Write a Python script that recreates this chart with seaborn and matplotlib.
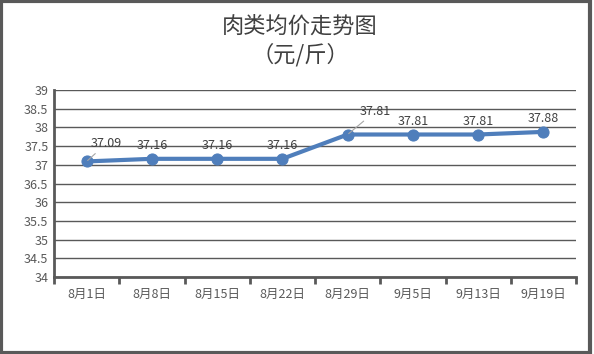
import matplotlib
matplotlib.use("Agg")
from matplotlib import pyplot as plt
from matplotlib.patches import Rectangle
from matplotlib.ticker import FuncFormatter, FixedLocator
import seaborn as sns
import pandas as pd
import numpy as np

dates = ["8月1日", "8月8日", "8月15日", "8月22日", "8月29日", "9月5日", "9月13日", "9月19日"]
prices = [37.09, 37.16, 37.16, 37.16, 37.81, 37.81, 37.81, 37.88]
title = "肉类均价走势图\n（元/斤）"

sns.set_style("white")
plt.rcParams['font.family'] = ['Noto Sans CJK SC', 'DejaVu Sans']

df = pd.DataFrame({"pos": np.arange(len(dates)), "price": prices})

fig = plt.figure(figsize=(5.94, 3.54), dpi=100)
ax = fig.add_axes([54/594, 1-277/354, 522/594, 187/354])

grid_c = "#595959"
text_c = "#595959"
line_c = "#4F7EBB"

sns.lineplot(data=df, x="pos", y="price", ax=ax, color=line_c, linewidth=3,
             marker="o", markersize=8, markeredgecolor=line_c, zorder=3)

ax.set_xlim(-0.5, len(dates) - 0.5)
ax.set_ylim(34, 39)
ax.set_yticks(np.arange(34, 39.01, 0.5))
ax.yaxis.set_major_formatter(FuncFormatter(lambda v, p: "%g" % v))
ax.grid(axis="y", color=grid_c, linewidth=1)
ax.set_axisbelow(True)

# category boundaries as tick marks, labels at centers
ax.xaxis.set_major_locator(FixedLocator(np.arange(-0.5, len(dates), 1)))
ax.xaxis.set_minor_locator(FixedLocator(np.arange(len(dates))))
ax.set_xticklabels([""] * (len(dates) + 1))
ax.set_xticklabels(dates, minor=True)
ax.tick_params(axis="x", which="major", length=5, width=2, color=grid_c, direction="out", bottom=True)
ax.tick_params(axis="x", which="minor", length=0, pad=8, labelsize=9, labelcolor=text_c)
ax.tick_params(axis="y", length=0, labelsize=9, labelcolor=text_c, pad=4)
ax.set_xlabel("")
ax.set_ylabel("")

for s in ["top", "right"]:
    ax.spines[s].set_visible(False)
ax.spines["left"].set_color(grid_c)
ax.spines["left"].set_linewidth(2)
ax.spines["bottom"].set_color(grid_c)
ax.spines["bottom"].set_linewidth(2)

# data labels
offsets = {0: (14, 8), 4: (20, 12)}
for i, v in enumerate(prices):
    if i in offsets:
        dx, dy = offsets[i]
        ax.annotate("%.2f" % v, (i, v), xytext=(dx, dy), textcoords="offset points",
                    ha="center", va="bottom", fontsize=9, color="#404040",
                    arrowprops=dict(arrowstyle="-", color="#A6A6A6", lw=0.8,
                                    shrinkA=0, shrinkB=1))
    else:
        ax.annotate("%.2f" % v, (i, v), xytext=(0, 5), textcoords="offset points",
                    ha="center", va="bottom", fontsize=9, color="#404040")

fig.text(0.505, 1 - 15/354, title, ha="center", va="top", fontsize=16, color="#404040",
         linespacing=1.25)

fig.patches.append(Rectangle((0.002, 0.003), 0.992, 0.994, transform=fig.transFigure,
                             fill=False, edgecolor="#595959", linewidth=3))

plt.savefig("out.png", dpi=100)
